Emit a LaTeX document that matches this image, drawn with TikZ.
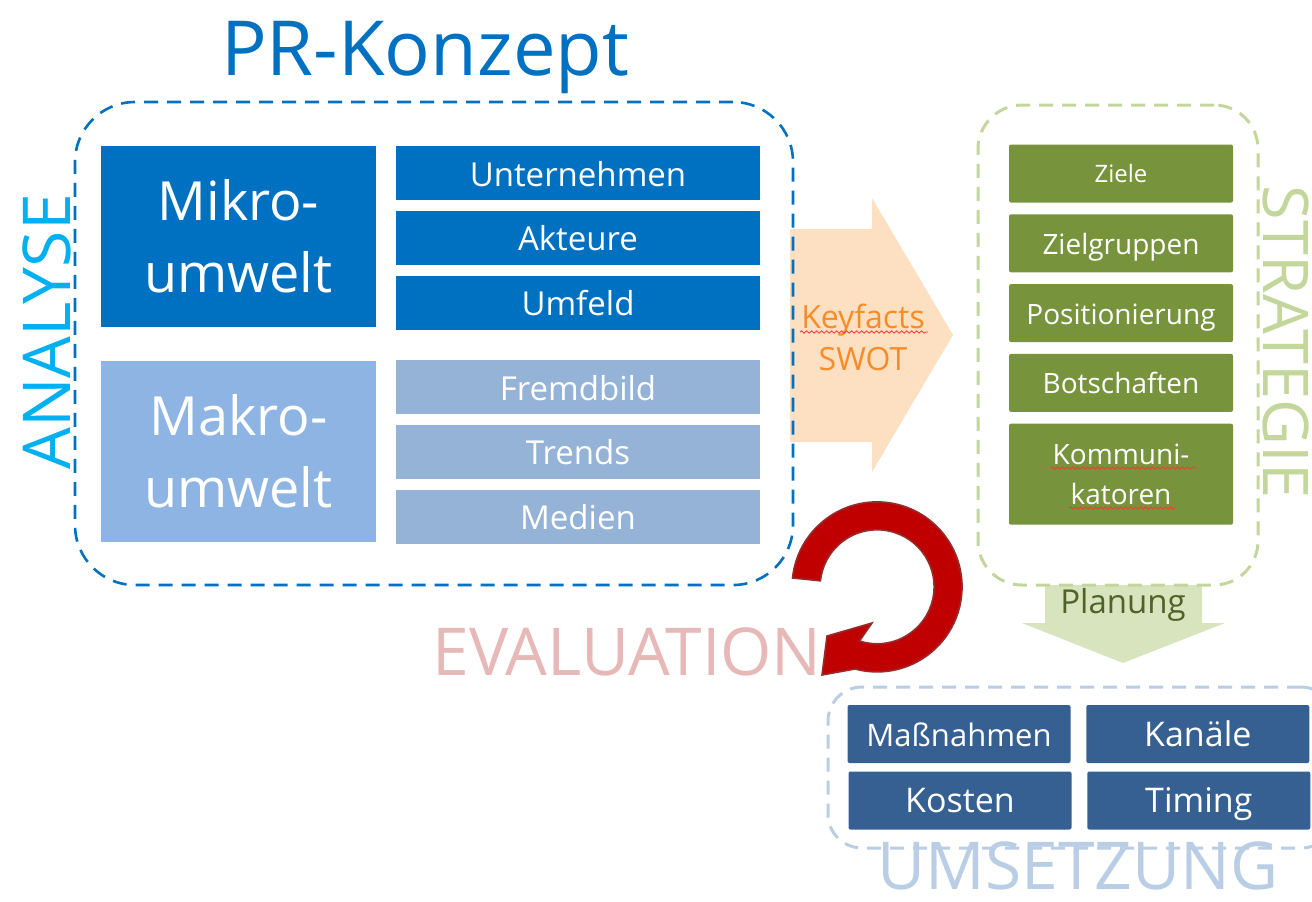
\documentclass[tikz,border=0pt]{standalone}
\usepackage{fontspec}
\setmainfont{Open Sans}
\usepackage{tikz}
\usetikzlibrary{positioning,decorations.pathmorphing}

\definecolor{mikroblue}{RGB}{0,112,192}
\definecolor{makroblue}{RGB}{142,180,227}
\definecolor{makroitem}{RGB}{149,179,215}
\definecolor{analysecyan}{RGB}{0,176,240}
\definecolor{keyfill}{RGB}{253,223,194}
\definecolor{keytext}{RGB}{247,140,40}
\definecolor{stratgreen}{RGB}{119,147,60}
\definecolor{stratlight}{RGB}{195,214,155}
\definecolor{planfill}{RGB}{215,228,189}
\definecolor{plantext}{RGB}{79,98,40}
\definecolor{tasklight}{RGB}{185,205,229}
\definecolor{taskblue}{RGB}{54,96,146}
\definecolor{evaltext}{RGB}{230,185,184}
\definecolor{evalred}{RGB}{192,0,0}
\definecolor{evaldark}{RGB}{150,45,45}

\begin{document}
\begin{tikzpicture}[
    x=0.5pt, y=-0.5pt,
    node distance=5pt,
    oneline/.style={text height=#1, text depth=2pt},
    bigbox/.style={
        rectangle,
        text=white,
        align=center,
        inner sep=0pt,
        minimum width=137.5pt,
        minimum height=90.5pt,
        font=\fontsize{27}{36}\selectfont
    },
    item/.style={
        rectangle,
        text=white,
        oneline=15pt,
        inner sep=0pt,
        minimum width=182pt,
        minimum height=27pt,
        font=\fontsize{16.5}{20}\selectfont
    },
    goal/.style={
        rectangle,
        fill=stratgreen,
        text=white,
        rounded corners=1pt,
        align=center,
        inner sep=0pt,
        minimum width=112pt,
        minimum height=29pt,
        font=\fontsize{14}{20}\selectfont
    },
    task/.style={
        rectangle,
        fill=taskblue,
        text=white,
        oneline=14pt,
        rounded corners=1pt,
        inner sep=0pt,
        minimum width=111.5pt,
        minimum height=29pt,
        font=\fontsize{17}{20}\selectfont
    },
    frame/.style={
        rectangle,
        draw,
        dash pattern=on 7pt off 4.5pt,
        line width=1.3pt,
        inner sep=0pt
    },
    phase/.style={
        inner sep=0pt,
        anchor=base,
        font=\fontsize{33}{36}\selectfont
    },
    squiggle/.style={red!80, line width=0.4pt, decorate,
        decoration={snake, amplitude=0.6pt, segment length=2.5pt}}
]
\useasboundingbox (0,0) rectangle (1312,901);
\clip (0,0) rectangle (1312,901);

% broad arrows behind the frames
\fill[keyfill] (790,229) -- (872,229) -- (872,198) -- (953,335)
    -- (872,472) -- (872,442) -- (790,442) -- cycle;
\fill[planfill] (1045,585) -- (1202,585) -- (1202,623) -- (1225,623)
    -- (1123,663) -- (1022,623) -- (1045,623) -- cycle;

% analyse
\node[frame, draw=mikroblue, rounded corners=30pt,
    minimum width=359pt, minimum height=241.5pt] (analysebox) at (434,343.5) {};
\node[phase, text=mikroblue, font=\fontsize{38}{40}\selectfont] (title) at (425,75) {PR-Konzept};
\node[phase, text=analysecyan, rotate=90] (analyse) at (70,332) {ANALYSE};

\node[bigbox, fill=mikroblue] (mikro) at (238.5,236.5) {Mikro-\\umwelt};
\node[bigbox, fill=makroblue, below=16.5pt of mikro] (makro) {Makro-\\umwelt};

\node[item, fill=mikroblue] (unternehmen) at (578,173) {Unternehmen};
\node[item, fill=mikroblue, below=of unternehmen] (akteure) {Akteure};
\node[item, fill=mikroblue, below=of akteure] (umfeld) {Umfeld};
\node[item, fill=makroitem] (fremdbild) at (578,387) {Fremdbild};
\node[item, fill=makroitem, below=of fremdbild] (trends) {Trends};
\node[item, fill=makroitem, below=of trends] (medien) {Medien};

\node[text=keytext, align=center, inner sep=0pt,
    font=\fontsize{16}{21}\selectfont] (keyfacts) at (863,337) {Keyfacts\\SWOT};
\draw[squiggle] (800,332) -- (928,332);

% strategie
\node[frame, draw=stratlight, rounded corners=22pt, line width=1.5pt,
    minimum width=140pt, minimum height=240pt] (strategiebox) at (1118,345) {};
\node[phase, text=stratlight, font=\fontsize{31.5}{36}\selectfont, rotate=-90] (strategie) at (1263,342) {STRATEGIE};

\node[goal, oneline=10.5pt, font=\fontsize{12}{14}\selectfont] (ziele) at (1121,173.5) {Ziele};
\node[goal, oneline=13pt, below=5.5pt of ziele] (zielgruppen) {Zielgruppen};
\node[goal, oneline=13pt, below=5.5pt of zielgruppen] (positionierung) {Positionierung};
\node[goal, oneline=13pt, below=5.5pt of positionierung] (botschaften) {Botschaften};
\node[goal, below=5.5pt of botschaften, minimum height=50.5pt] (kommunikatoren) {Kommuni-\\katoren};
\draw[squiggle] (1051,468) -- (1196,468);
\draw[squiggle] (1069,508) -- (1175,508);

\node[text=plantext, inner sep=0pt, font=\fontsize{16.5}{20}\selectfont] (planung) at (1123,605) {Planung};

% umsetzung
\node[frame, draw=tasklight, rounded corners=17pt, line width=1.5pt,
    minimum width=253.5pt, minimum height=80.5pt] (umsetzungbox) at (1081.5,767.5) {};
\node[task, font=\fontsize{15.5}{20}\selectfont] (massnahmen) at (959,734) {Maßnahmen};
\node[task, right=7.5pt of massnahmen] (kanaele) {Kanäle};
\node[task] (kosten) at (960,800.5) {Kosten};
\node[task, right=7.5pt of kosten] (timing) {Timing};
\node[phase, text=tasklight] (umsetzung) at (1078,889) {UMSETZUNG};

% evaluation
\node[phase, text=evaltext] (evaluation) at (627,675) {EVALUATION};
\filldraw[fill=evalred, draw=evaldark, line width=0.8pt]
    (792.5,578) arc[start angle=186, end angle=465, radius=85]
    -- (822,675) -- (827,636) -- (872,623) -- (859.5,641)
    arc[start angle=468, end angle=186, radius=57] -- cycle;

\end{tikzpicture}
\end{document}
